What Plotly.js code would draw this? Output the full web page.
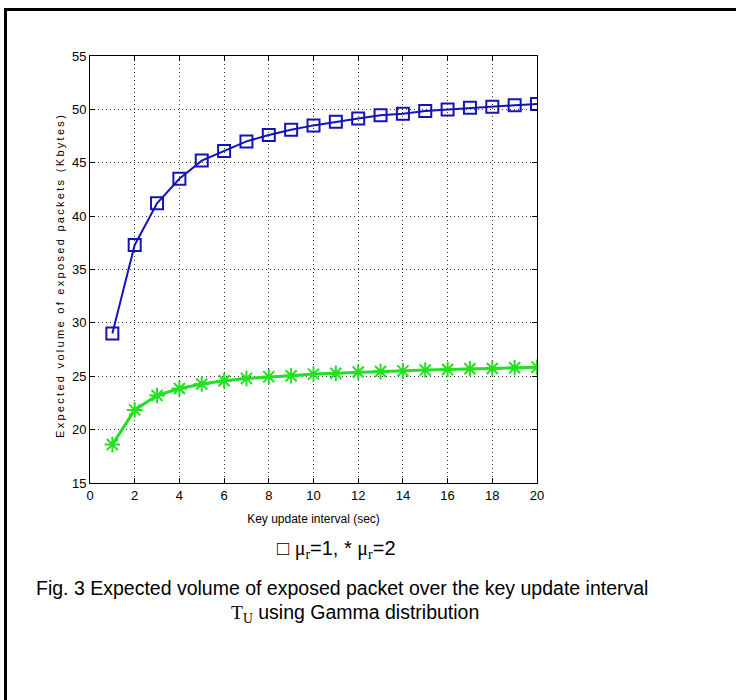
<!DOCTYPE html>
<html><head><meta charset="utf-8">
<script src="https://cdn.plot.ly/plotly-3.0.1.min.js"></script>
<style>
html,body{margin:0;padding:0;background:#fff;overflow:hidden;}
#wrap{position:relative;width:736px;height:700px;overflow:hidden;}
#chart{position:absolute;left:0;top:0;width:736px;height:700px;}
#ftop{position:absolute;left:4px;top:8px;width:732px;height:3px;background:#000;pointer-events:none;}
#fleft{position:absolute;left:4px;top:8px;width:3px;height:692px;background:#000;pointer-events:none;}
</style></head><body>
<div id="wrap"><div id="chart"></div><div id="ftop"></div><div id="fleft"></div></div>
<script>
const keyInterval = [1,2,3,4,5,6,7,8,9,10,11,12,13,14,15,16,17,18,19,20];
const volMu1 = [29.0,37.3,41.2,43.5,45.2,46.1,47.0,47.6,48.1,48.5,48.85,49.15,49.45,49.6,49.85,50.0,50.15,50.25,50.38,50.5];
const volMu2 = [18.6,21.85,23.2,23.85,24.27,24.58,24.8,24.96,25.05,25.2,25.28,25.4,25.45,25.5,25.58,25.63,25.7,25.73,25.8,25.85];
const xTicks = [0,2,4,6,8,10,12,14,16,18,20];
const yTicks = [15,20,25,30,35,40,45,50,55];

const traces = [
  {x:keyInterval, y:volMu1, mode:'lines+markers', type:'scatter',
   line:{color:'#1414b4', width:2},
   marker:{symbol:'square-open', size:12, color:'#1414b4', line:{width:2, color:'#1414b4'}}},
  {x:keyInterval, y:volMu2, mode:'lines+markers', type:'scatter',
   line:{color:'#22e022', width:3},
   marker:{symbol:'asterisk-open', size:13, color:'#22e022', line:{width:2, color:'#22e022'}}}
];

const tickFont = {family:'"Liberation Sans Narrow", "Liberation Sans", Arial', size:13, color:'#000'};
const gridStyle = {showgrid:true, gridcolor:'#333', griddash:'1px,3px', gridwidth:1};
const layout = {
  width:736, height:700,
  margin:{l:90, r:199, t:56, b:217},
  paper_bgcolor:'#fff', plot_bgcolor:'#fff',
  showlegend:false,
  xaxis:Object.assign({range:[0,20], tickvals:xTicks, ticktext:xTicks.map(String),
    ticks:'inside', ticklen:5, tickcolor:'#000', mirror:'ticks',
    showline:true, linecolor:'#000', linewidth:1,
    zeroline:false, tickfont:tickFont,
    title:{text:'Key update interval (sec)', font:{family:'Arial, "Liberation Sans"', size:12, color:'#000'}, standoff:13}}, gridStyle),
  yaxis:Object.assign({range:[15,55], tickvals:yTicks, ticktext:yTicks.map(String),
    ticks:'inside', ticklen:5, tickcolor:'#000', mirror:'ticks',
    showline:true, linecolor:'#000', linewidth:1,
    zeroline:false, tickfont:tickFont}, gridStyle),
  annotations:[
    {xref:'paper', yref:'paper', x:(60-90)/447, y:(483-276)/427, xanchor:'center', yanchor:'middle', showarrow:false, textangle:-90,
     text:'<span style="letter-spacing:2.3px">Expected volume of exposed packets (Kbytes)</span>',
     font:{family:'Arial, "Liberation Sans"', size:11, color:'#000'}},
    {xref:'paper', yref:'paper', x:(336-90)/447, y:(483-549)/427, xanchor:'center', yanchor:'middle', showarrow:false,
     text:'□ <span style="font-family:Liberation Serif">μ</span><sub style="font-family:Liberation Serif">r</sub>=1, * <span style="font-family:Liberation Serif">μ</span><sub style="font-family:Liberation Serif">r</sub>=2',
     font:{family:'Arial, "Liberation Sans"', size:20, color:'#000'}},
    {xref:'paper', yref:'paper', x:(342-90)/447, y:(483-588)/427, xanchor:'center', yanchor:'middle', showarrow:false,
     text:'Fig. 3 Expected volume of exposed packet over the key update interval',
     font:{family:'Arial, "Liberation Sans"', size:19.5, color:'#000'}},
    {xref:'paper', yref:'paper', x:(355-90)/447, y:(483-613)/427, xanchor:'center', yanchor:'middle', showarrow:false,
     text:'<span style="font-family:Liberation Serif">T</span><sub style="font-family:Liberation Serif">U</sub> using Gamma distribution',
     font:{family:'Arial, "Liberation Sans"', size:19.5, color:'#000'}}
  ]
};
Plotly.newPlot('chart', traces, layout, {displayModeBar:false, staticPlot:true});
</script>
</body></html>
